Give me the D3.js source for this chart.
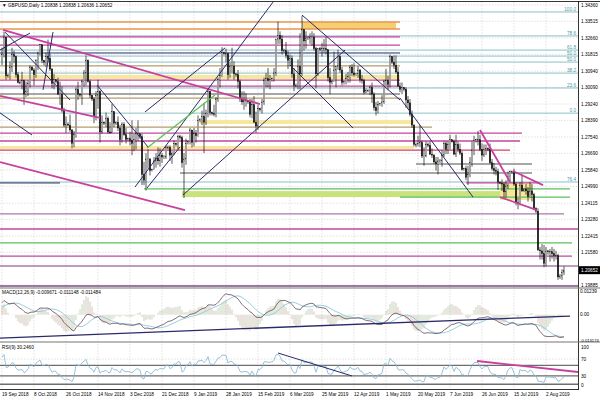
<!DOCTYPE html>
<html>
<head>
<meta charset="utf-8">
<script src="https://cdn.jsdelivr.net/npm/d3@7"></script>
<style>
  body { margin: 0; background: #fff; }
  text { font-family: "Liberation Sans", Arial, sans-serif; font-size: 4.7px; fill: #000; }
</style>
</head>
<body>
<svg width="600" height="400"></svg>
<script>
// GBPUSD daily bars, 19 Sep 2018 .. 13 Aug 2019 (broker has Sunday bars, 6 bars per week)
var closes = [
  1.3180, 1.3270, 1.3070,
  1.3070, 1.3115, 1.3180, 1.3170, 1.3075, 1.3035,
  1.3035, 1.3045, 1.2975, 1.2990, 1.3030, 1.3115,
  1.3100, 1.3075, 1.3150, 1.3185, 1.3230, 1.3150,
  1.3140, 1.3170, 1.3160, 1.3105, 1.3030, 1.3050,
  1.3040, 1.2975, 1.2975, 1.2890, 1.2815, 1.2820,
  1.2815, 1.2790, 1.2720, 1.2765, 1.3000, 1.2975,
  1.2970, 1.3040, 1.3085, 1.3150, 1.3040, 1.2970,
  1.2950, 1.2860, 1.2970, 1.2990, 1.2780, 1.2830,
  1.2825, 1.2850, 1.2780, 1.2775, 1.2885, 1.2825,
  1.2830, 1.2800, 1.2740, 1.2820, 1.2765, 1.2740,
  1.2745, 1.2735, 1.2720, 1.2740, 1.2770, 1.2770,
  1.2755, 1.2560, 1.2530, 1.2640, 1.2640, 1.2580,
  1.2585, 1.2630, 1.2645, 1.2630, 1.2660, 1.2650,
  1.2650, 1.2700, 1.2700, 1.2660, 1.2670, 1.2720,
  1.2715, 1.2755, 1.2750, 1.2620, 1.2640, 1.2720,
  1.2730, 1.2790, 1.2725, 1.2770, 1.2760, 1.2840,
  1.2845, 1.2860, 1.2830, 1.2875, 1.2990, 1.2880,
  1.2875, 1.2870, 1.2950, 1.3050, 1.3070, 1.3190,
  1.3185, 1.3185, 1.3075, 1.3120, 1.3120, 1.3080,
  1.3075, 1.3040, 1.2950, 1.2935, 1.2945, 1.2940,
  1.2935, 1.2870, 1.2920, 1.2830, 1.2810, 1.2900,
  1.2895, 1.2935, 1.3045, 1.3055, 1.3045, 1.3050,
  1.3055, 1.3085, 1.3260, 1.3280, 1.3260, 1.3200,
  1.3200, 1.3175, 1.3150, 1.3160, 1.3080, 1.3020,
  1.3020, 1.3120, 1.3080, 1.3310, 1.3250, 1.3265,
  1.3265, 1.3270, 1.3270, 1.3210, 1.3080, 1.3210,
  1.3205, 1.3210, 1.3210, 1.3205, 1.3060, 1.3035,
  1.3040, 1.3100, 1.3120, 1.3170, 1.3100, 1.3035,
  1.3040, 1.3055, 1.3065, 1.3115, 1.3085, 1.3075,
  1.3080, 1.3100, 1.3050, 1.3045, 1.2985, 1.2995,
  1.2995, 1.3010, 1.2975, 1.2905, 1.2890, 1.2920,
  1.2925, 1.2935, 1.3040, 1.3045, 1.3025, 1.3170,
  1.3140, 1.3125, 1.3090, 1.3015, 1.3000, 1.3010,
  1.3000, 1.2945, 1.2930, 1.2870, 1.2815, 1.2715,
  1.2715, 1.2720, 1.2725, 1.2655, 1.2655, 1.2715,
  1.2710, 1.2665, 1.2660, 1.2625, 1.2615, 1.2630,
  1.2630, 1.2660, 1.2720, 1.2690, 1.2715, 1.2740,
  1.2730, 1.2665, 1.2715, 1.2690, 1.2670, 1.2585,
  1.2590, 1.2545, 1.2560, 1.2620, 1.2685, 1.2735,
  1.2740, 1.2740, 1.2690, 1.2660, 1.2690, 1.2695,
  1.2690, 1.2620, 1.2590, 1.2580, 1.2575, 1.2520,
  1.2515, 1.2510, 1.2470, 1.2500, 1.2550, 1.2575,
  1.2575, 1.2510, 1.2415, 1.2410, 1.2505, 1.2475,
  1.2485, 1.2475, 1.2445, 1.2475, 1.2455, 1.2385,
  1.2370, 1.2170, 1.2165, 1.2150, 1.2100, 1.2165,
  1.2160, 1.2160, 1.2150, 1.2140, 1.2140, 1.2030,
  1.2035, 1.2055, 1.2065
];
var highs = [
  1.3215, 1.3298, 1.3270,
  1.3080, 1.3145, 1.3215, 1.3200, 1.3175, 1.3090,
  1.3045, 1.3090, 1.3050, 1.3040, 1.3045, 1.3125,
  1.3120, 1.3110, 1.3155, 1.3195, 1.3235, 1.3230,
  1.3145, 1.3190, 1.3257, 1.3185, 1.3110, 1.3080,
  1.3050, 1.3060, 1.3040, 1.3015, 1.2905, 1.2860,
  1.2830, 1.2870, 1.2795, 1.2785, 1.3010, 1.3040,
  1.2980, 1.3050, 1.3100, 1.3175, 1.3155, 1.3050,
  1.2965, 1.2960, 1.2990, 1.3050, 1.2995, 1.2865,
  1.2835, 1.2880, 1.2860, 1.2830, 1.2925, 1.2880,
  1.2835, 1.2860, 1.2815, 1.2830, 1.2830, 1.2800,
  1.2750, 1.2780, 1.2840, 1.2770, 1.2800, 1.2840,
  1.2770, 1.2770, 1.2625, 1.2670, 1.2690, 1.2645,
  1.2590, 1.2650, 1.2670, 1.2700, 1.2695, 1.2670,
  1.2660, 1.2710, 1.2710, 1.2710, 1.2680, 1.2735,
  1.2725, 1.2765, 1.2765, 1.2760, 1.2670, 1.2745,
  1.2735, 1.2800, 1.2790, 1.2800, 1.2790, 1.2865,
  1.2850, 1.2890, 1.2930, 1.2895, 1.3000, 1.2990,
  1.2885, 1.2920, 1.2960, 1.3060, 1.3110, 1.3218,
  1.3195, 1.3210, 1.3190, 1.3140, 1.3215, 1.3145,
  1.3085, 1.3100, 1.3050, 1.2990, 1.2990, 1.2980,
  1.2945, 1.2950, 1.2950, 1.2965, 1.2885, 1.2920,
  1.2905, 1.2950, 1.3060, 1.3085, 1.3110, 1.3075,
  1.3060, 1.3110, 1.3260, 1.3350, 1.3300, 1.3280,
  1.3210, 1.3245, 1.3200, 1.3180, 1.3175, 1.3110,
  1.3030, 1.3155, 1.3290, 1.3380, 1.3310, 1.3300,
  1.3275, 1.3290, 1.3300, 1.3290, 1.3220, 1.3210,
  1.3220, 1.3240, 1.3260, 1.3270, 1.3205, 1.3110,
  1.3050, 1.3195, 1.3120, 1.3205, 1.3175, 1.3115,
  1.3045, 1.3080, 1.3090, 1.3125, 1.3130, 1.3135,
  1.3085, 1.3120, 1.3105, 1.3075, 1.3055, 1.3005,
  1.3000, 1.3020, 1.3035, 1.2985, 1.2935, 1.2940,
  1.2930, 1.2970, 1.3050, 1.3105, 1.3070, 1.3180,
  1.3165, 1.3175, 1.3175, 1.3115, 1.3035, 1.3035,
  1.3010, 1.3010, 1.2965, 1.2950, 1.2890, 1.2820,
  1.2725, 1.2760, 1.2815, 1.2735, 1.2700, 1.2730,
  1.2725, 1.2730, 1.2695, 1.2665, 1.2650, 1.2650,
  1.2640, 1.2685, 1.2730, 1.2730, 1.2730, 1.2765,
  1.2740, 1.2740, 1.2765, 1.2730, 1.2720, 1.2680,
  1.2595, 1.2605, 1.2605, 1.2650, 1.2730, 1.2760,
  1.2745, 1.2785, 1.2765, 1.2720, 1.2715, 1.2715,
  1.2700, 1.2720, 1.2640, 1.2620, 1.2600, 1.2590,
  1.2525, 1.2535, 1.2520, 1.2530, 1.2575, 1.2580,
  1.2580, 1.2590, 1.2520, 1.2440, 1.2520, 1.2560,
  1.2490, 1.2510, 1.2495, 1.2520, 1.2510, 1.2465,
  1.2390, 1.2385, 1.2185, 1.2200, 1.2195, 1.2185,
  1.2170, 1.2175, 1.2185, 1.2175, 1.2165, 1.2150,
  1.2045, 1.2070, 1.2085
];
var lows = [
  1.3125, 1.3165, 1.3050,
  1.3060, 1.3050, 1.3090, 1.3135, 1.3060, 1.3030,
  1.3025, 1.3000, 1.2920, 1.2960, 1.2965, 1.3010,
  1.3095, 1.3020, 1.3060, 1.3100, 1.3175, 1.3135,
  1.3125, 1.3115, 1.3140, 1.3095, 1.3005, 1.3000,
  1.3030, 1.2970, 1.2920, 1.2880, 1.2805, 1.2775,
  1.2810, 1.2780, 1.2695, 1.2700, 1.2750, 1.2945,
  1.2960, 1.2920, 1.3015, 1.3020, 1.3035, 1.2955,
  1.2940, 1.2825, 1.2840, 1.2900, 1.2725, 1.2770,
  1.2815, 1.2805, 1.2770, 1.2770, 1.2775, 1.2805,
  1.2815, 1.2785, 1.2710, 1.2725, 1.2760, 1.2720,
  1.2735, 1.2710, 1.2660, 1.2680, 1.2690, 1.2735,
  1.2745, 1.2505, 1.2505, 1.2477, 1.2590, 1.2555,
  1.2575, 1.2585, 1.2595, 1.2610, 1.2600, 1.2620,
  1.2640, 1.2640, 1.2690, 1.2630, 1.2615, 1.2660,
  1.2705, 1.2690, 1.2740, 1.2595, 1.2438, 1.2610,
  1.2715, 1.2715, 1.2700, 1.2705, 1.2725, 1.2755,
  1.2830, 1.2815, 1.2670, 1.2815, 1.2855, 1.2865,
  1.2865, 1.2860, 1.2855, 1.2935, 1.3010, 1.3065,
  1.3175, 1.3140, 1.3050, 1.3060, 1.3085, 1.3050,
  1.3065, 1.3005, 1.2935, 1.2920, 1.2895, 1.2910,
  1.2925, 1.2855, 1.2850, 1.2825, 1.2775, 1.2790,
  1.2885, 1.2875, 1.2920, 1.3010, 1.3010, 1.3000,
  1.3040, 1.3040, 1.3070, 1.3235, 1.3235, 1.3180,
  1.3190, 1.3160, 1.3105, 1.3120, 1.3060, 1.2990,
  1.3010, 1.3000, 1.3000, 1.3070, 1.3200, 1.3210,
  1.3255, 1.3235, 1.3225, 1.3200, 1.3005, 1.3070,
  1.3195, 1.3170, 1.3190, 1.3180, 1.3040, 1.2975,
  1.3025, 1.3040, 1.3010, 1.3100, 1.3085, 1.3020,
  1.3025, 1.3025, 1.3035, 1.3035, 1.3070, 1.3065,
  1.3070, 1.3060, 1.3035, 1.3030, 1.2975, 1.2980,
  1.2985, 1.2970, 1.2930, 1.2890, 1.2865, 1.2875,
  1.2915, 1.2910, 1.2925, 1.3020, 1.2995, 1.3010,
  1.3130, 1.3105, 1.3080, 1.3015, 1.2985, 1.2975,
  1.2990, 1.2905, 1.2900, 1.2860, 1.2800, 1.2705,
  1.2700, 1.2705, 1.2700, 1.2645, 1.2605, 1.2650,
  1.2700, 1.2660, 1.2645, 1.2615, 1.2580, 1.2560,
  1.2620, 1.2600, 1.2650, 1.2665, 1.2665, 1.2690,
  1.2725, 1.2660, 1.2650, 1.2675, 1.2660, 1.2580,
  1.2580, 1.2530, 1.2505, 1.2545, 1.2600, 1.2660,
  1.2725, 1.2710, 1.2680, 1.2630, 1.2650, 1.2660,
  1.2680, 1.2615, 1.2580, 1.2560, 1.2555, 1.2480,
  1.2510, 1.2475, 1.2440, 1.2440, 1.2485, 1.2520,
  1.2565, 1.2500, 1.2400, 1.2380, 1.2400, 1.2470,
  1.2470, 1.2455, 1.2420, 1.2440, 1.2420, 1.2375,
  1.2360, 1.2165, 1.2120, 1.2120, 1.2080, 1.2085,
  1.2145, 1.2110, 1.2125, 1.2110, 1.2120, 1.2015,
  1.2020, 1.2015, 1.2040
];
// closes before the visible window, only used to warm up MACD / RSI
var warmupCloses = [
  1.3120, 1.3125, 1.3130, 1.3125, 1.3005, 1.2995,
  1.2990, 1.2935, 1.2925, 1.2890, 1.2850, 1.2765,
  1.2760, 1.2780, 1.2750, 1.2705, 1.2720, 1.2735,
  1.2740, 1.2810, 1.2905, 1.2885, 1.2820, 1.2830,
  1.2835, 1.2895, 1.2865, 1.3010, 1.3020, 1.2965,
  1.2960, 1.2880, 1.2860, 1.2875, 1.2950, 1.2935,
  1.2930, 1.3035, 1.3025, 1.3040, 1.3110, 1.3070,
  1.3075, 1.3150, 1.3150
];

var priceTicks = [1.34360, 1.33515, 1.32660, 1.31815, 1.30940, 1.30090, 1.29240, 1.28390,
  1.27540, 1.26690, 1.25840, 1.24990, 1.24115, 1.23280, 1.22415, 1.21580, 1.19885];
var lastPrice = 1.20652;
var dateLabels = ["19 Sep 2018", "8 Oct 2018", "26 Oct 2018", "14 Nov 2018", "3 Dec 2018",
  "21 Dec 2018", "9 Jan 2019", "28 Jan 2019", "15 Feb 2019", "6 Mar 2019", "25 Mar 2019",
  "12 Apr 2019", "1 May 2019", "20 May 2019", "7 Jun 2019", "26 Jun 2019", "15 Jul 2019", "2 Aug 2019"];
var barsPerLabel = 16;
var macdTicks = [0.01239, 0, -0.013174];
var macdTickText = ["0.01239", "0.00", "-0.013174"];
var rsiTicks = [100, 70, 30, 0];

// drawn objects: horizontal levels [price, fromBar, toBar, kind]
var levels = [
  [1.3348, -1, 199, "orange"], [1.3312, -1, 199, "orange"],
  [1.3271, -1, 199, "magenta"], [1.3229, -1, 199, "magenta"],
  [1.3188, -1, 199, "navy"], [1.3121, -1, 199, "tan"],
  [1.3048, -1, 199, "magenta"], [1.3017, -1, 199, "magenta"],
  [1.2976, -1, 199, "gray"], [1.2955, -1, 199, "tan"],
  [1.2805, -1, 215, "tan"], [1.2774, -1, 260, "magenta"],
  [1.2733, -1, 259, "magenta"], [1.2686, -1, 254, "red"],
  [1.2614, 207, 265, "gray"], [1.2567, 89, 265, "gray"],
  [1.2516, -1, 29, "navy"], [1.2516, 232, 269, "magenta"],
  [1.2485, 71, 284, "green"], [1.2443, 199, 284, "green"],
  [1.2356, -1, 281, "mauve"], [1.2278, -1, 289, "magenta"],
  [1.2206, -1, 285, "green"], [1.2138, -1, 285, "magenta"],
  [1.2087, -1, 289, "mauve"], [1.1983, -1, 289, "mauveThick"]
];
// filled zones [priceTop, priceBottom, fromBar, toBar, kind]
var zones = [
  [1.3348, 1.3312, 150, 197, "gold"],
  [1.3074, 1.3054, -1, 199, "yellow"],
  [1.2841, 1.2821, 99, 206, "yellow"],
  [1.2707, 1.2692, -1, 206, "yellow"],
  [1.2474, 1.2443, 90, 264, "lime"],
  [1.2516, 1.2428, 249, 265, "yellow"]
];
// fibonacci levels [price, label]
var fibLevels = [
  [1.3400, "100.0"], [1.3276, "78.6"], [1.3203, "61.8"], [1.3172, "50.0"],
  [1.3141, "50.0"], [1.3084, "38.2"], [1.3007, "23.6"], [1.2877, "0.0"], [1.2521, "76.4"]
];
// trend lines [bar1, price1, bar2, price2, kind]
var trendLines = [
  [0.5, 1.3307, 129, 1.2924, "magentaThick"],
  [-1, 1.2966, 49, 1.2852, "magentaThick"],
  [-1, 1.2624, 91.5, 1.2376, "magentaThick"],
  [239, 1.2790, 254, 1.2521, "magentaThick"],
  [255.5, 1.2578, 270.5, 1.2505, "magentaThick"],
  [249, 1.2443, 267.5, 1.2376, "magentaThick"],
  [66.5, 1.2495, 135.5, 1.3451, "navy"],
  [90.5, 1.2454, 171.5, 1.3203, "navy"],
  [150, 1.3384, 199, 1.2945, "navy"],
  [199, 1.2955, 235.5, 1.2443, "navy"],
  [144, 1.3126, 175.5, 1.2800, "navy"],
  [1.5, 1.3296, 34, 1.2945, "navy"],
  [71.5, 1.2883, 111.5, 1.3214, "navy"],
  [47.5, 1.3022, 73, 1.2702, "navy"],
  [72.5, 1.2490, 89, 1.2702, "navy"],
  [-1, 1.2878, 15, 1.2764, "navy"],
  [-1, 1.3203, 14, 1.3291, "navy"],
  [20.5, 1.2997, 25.5, 1.3296, "navy"],
  [72.5, 1.2697, 106.5, 1.2971, "green"]
];
var macdTrend = [-1, -0.01216, 284, -0.00068];
var rsiLevels = [55, 30, 10];
var rsiTrends = [[138, 84.5, 175, 29.8, "navy"], [237.5, 65.5, 288, 39.3, "magentaThick"]];

var styles = {
  orange: ["#e8964c", 1.3], magenta: ["#c4479c", 1.3], magentaThick: ["#c8409e", 1.8],
  navy: ["#2a2a6a", 1], tan: ["#b39b6e", 1.3], gray: ["#8a8a8a", 1.5],
  red: ["#d2406a", 1.3], green: ["#5cbf5c", 1.3], mauve: ["#a77ba8", 1.4],
  mauveThick: ["#9e78a4", 2.2]
};
var zoneColors = { gold: "#f6cf72", yellow: "#f6e79a", lime: "#c9e27e" };

var svg = d3.select("svg");
var plotR = 578;
var x = d3.scaleLinear().domain([0, 288]).range([2, 578]);
var y = d3.scaleLinear().domain([1.19885, 1.34360]).range([285, 5]);
var yM = d3.scaleLinear().domain([-0.013174, 0.01239]).range([340, 291]);
var yR = d3.scaleLinear().domain([0, 100]).range([388.5, 346.5]);

var defs = svg.append("defs");
[["clipMain", 2, 287], ["clipMacd", 288.5, 341], ["clipRsi", 343, 389]].forEach(function (c) {
  defs.append("clipPath").attr("id", c[0]).append("rect")
    .attr("x", 0).attr("y", c[1]).attr("width", plotR).attr("height", c[2] - c[1]);
});

// ---- grid
var grid = svg.append("g").attr("stroke", "#cfcfcf").attr("stroke-width", 0.6).attr("stroke-dasharray", "1.5,1.5");
dateLabels.forEach(function (d, k) {
  grid.append("line").attr("x1", x(k * barsPerLabel)).attr("x2", x(k * barsPerLabel))
    .attr("y1", 2).attr("y2", 389);
});
priceTicks.forEach(function (p) {
  grid.append("line").attr("x1", 0).attr("x2", plotR).attr("y1", y(p)).attr("y2", y(p));
});
rsiTicks.slice(1, 3).forEach(function (r) {
  grid.append("line").attr("x1", 0).attr("x2", plotR).attr("y1", yR(r)).attr("y2", yR(r));
});

// ---- main panel objects
var main = svg.append("g").attr("clip-path", "url(#clipMain)");
main.selectAll(".zone").data(zones).enter().append("rect")
  .attr("x", d => x(d[2])).attr("width", d => x(d[3]) - x(d[2]))
  .attr("y", d => y(d[0])).attr("height", d => y(d[1]) - y(d[0]))
  .attr("fill", d => zoneColors[d[4]]);
main.selectAll(".fib").data(fibLevels).enter().append("line")
  .attr("x1", 0).attr("x2", plotR).attr("y1", d => y(d[0])).attr("y2", d => y(d[0]))
  .attr("stroke", "#6fb0b8").attr("stroke-width", 0.8);
main.selectAll(".lvl").data(levels).enter().append("line")
  .attr("x1", d => x(d[1])).attr("x2", d => x(d[2]))
  .attr("y1", d => y(d[0])).attr("y2", d => y(d[0]))
  .attr("stroke", d => styles[d[3]][0]).attr("stroke-width", d => styles[d[3]][1]);
main.selectAll(".fibtxt").data(fibLevels).enter().append("text")
  .attr("x", 576).attr("y", d => y(d[0]) - 1).attr("text-anchor", "end")
  .style("fill", "#4d9aa6").text(d => d[1]);

// candles
var n = Math.min(closes.length, highs.length, lows.length);
var bars = d3.range(n).map(function (i) {
  var o = i === 0 ? warmupCloses[warmupCloses.length - 1] : closes[i - 1];
  return { i: i, o: o, c: closes[i], h: Math.max(highs[i], o, closes[i]), l: Math.min(lows[i], o, closes[i]) };
});
var cg = main.append("g");
cg.selectAll(".wick").data(bars).enter().append("line")
  .attr("x1", d => x(d.i)).attr("x2", d => x(d.i))
  .attr("y1", d => y(d.h)).attr("y2", d => y(d.l))
  .attr("stroke", "#111").attr("stroke-width", 0.7);
cg.selectAll(".body").data(bars).enter().append("rect")
  .attr("x", d => x(d.i) - 0.7).attr("width", 1.4)
  .attr("y", d => y(Math.max(d.o, d.c)))
  .attr("height", d => Math.max(0.6, Math.abs(y(d.o) - y(d.c))))
  .attr("fill", d => d.c >= d.o ? "#fff" : "#111")
  .attr("stroke", "#111").attr("stroke-width", 0.3);

main.selectAll(".trend").data(trendLines).enter().append("line")
  .attr("x1", d => x(d[0])).attr("y1", d => y(d[1]))
  .attr("x2", d => x(d[2])).attr("y2", d => y(d[3]))
  .attr("stroke", d => styles[d[4]][0])
  .attr("stroke-width", d => styles[d[4]][1]);

// ---- indicators
var all = warmupCloses.concat(closes.slice(0, n));
function ema(arr, p) {
  var k = 2 / (p + 1), prev = arr[0];
  return arr.map(function (v, i) { prev = i ? v * k + prev * (1 - k) : v; return prev; });
}
var e12 = ema(all, 12), e26 = ema(all, 26);
var macdAll = all.map((v, i) => e12[i] - e26[i]);
var sigAll = macdAll.map((v, i) => d3.mean(macdAll.slice(Math.max(0, i - 8), i + 1)));
var rsiAll = [50], ag = 0, al = 0;
for (var i = 1; i < all.length; i++) {
  var ch = all[i] - all[i - 1], g = Math.max(ch, 0), l = Math.max(-ch, 0);
  if (i <= 9) { ag += g / 9; al += l / 9; } else { ag = (ag * 8 + g) / 9; al = (al * 8 + l) / 9; }
  rsiAll.push(al === 0 ? 100 : 100 - 100 / (1 + ag / al));
}
var off = warmupCloses.length;
var ind = d3.range(n).map(function (i) {
  return { i: i, m: macdAll[off + i], s: sigAll[off + i], r: rsiAll[off + i] };
});

var mg = svg.append("g").attr("clip-path", "url(#clipMacd)");
mg.selectAll(".hist").data(ind).enter().append("line")
  .attr("x1", d => x(d.i)).attr("x2", d => x(d.i))
  .attr("y1", yM(0)).attr("y2", d => yM(2 * (d.m - d.s)))
  .attr("stroke", d => d.i > 0 && (d.m - d.s) >= (ind[d.i - 1].m - ind[d.i - 1].s) ? "#8fa874" : "#a88f74")
  .attr("stroke-width", 0.5);
mg.append("path").datum(ind).attr("fill", "none").attr("stroke", "#8ccbdb").attr("stroke-width", 0.9)
  .attr("d", d3.line().x(d => x(d.i)).y(d => yM(d.s)));
mg.append("path").datum(ind).attr("fill", "none").attr("stroke", "#6a4a58").attr("stroke-width", 0.8)
  .attr("d", d3.line().x(d => x(d.i)).y(d => yM(d.m)));
mg.append("line").attr("x1", x(macdTrend[0])).attr("y1", yM(macdTrend[1]))
  .attr("x2", x(macdTrend[2])).attr("y2", yM(macdTrend[3]))
  .attr("stroke", styles.navy[0]).attr("stroke-width", 1.3);

var rg = svg.append("g").attr("clip-path", "url(#clipRsi)");
rg.selectAll(".rl").data(rsiLevels).enter().append("line")
  .attr("x1", 0).attr("x2", plotR).attr("y1", d => yR(d)).attr("y2", d => yR(d))
  .attr("stroke", "#6e6e6e").attr("stroke-width", 1.4);
rg.append("path").datum(ind).attr("fill", "none").attr("stroke", "#7fb4d2").attr("stroke-width", 0.8)
  .attr("d", d3.line().x(d => x(d.i)).y(d => yR(d.r)));
rg.selectAll(".rt").data(rsiTrends).enter().append("line")
  .attr("x1", d => x(d[0])).attr("y1", d => yR(d[1]))
  .attr("x2", d => x(d[2])).attr("y2", d => yR(d[3]))
  .attr("stroke", d => styles[d[4]][0]).attr("stroke-width", d => styles[d[4]][1]);

// ---- frames
var fr = svg.append("g").attr("stroke", "#000").attr("stroke-width", 0.8).attr("fill", "none");
fr.append("line").attr("x1", plotR + 0.5).attr("x2", plotR + 0.5).attr("y1", 1).attr("y2", 390);
fr.append("line").attr("x1", 0).attr("x2", 600).attr("y1", 1.5).attr("y2", 1.5);
fr.append("line").attr("x1", 0).attr("x2", 600).attr("y1", 288).attr("y2", 288).attr("stroke", "#777").attr("stroke-width", 1.2);
fr.append("line").attr("x1", 0).attr("x2", 600).attr("y1", 342).attr("y2", 342).attr("stroke", "#777").attr("stroke-width", 1.2);
fr.append("line").attr("x1", 0).attr("x2", plotR).attr("y1", 389.5).attr("y2", 389.5);

// ---- axis texts
svg.selectAll(".pt").data(priceTicks).enter().append("text")
  .attr("x", 581).attr("y", d => y(d) + 1.7).text(d => d.toFixed(5));
svg.append("rect").attr("x", 579).attr("y", y(lastPrice) - 4).attr("width", 21).attr("height", 8).attr("fill", "#000");
svg.append("text").attr("x", 581).attr("y", y(lastPrice) + 1.7).style("fill", "#fff").text(lastPrice.toFixed(5));
svg.selectAll(".mt").data(macdTicks).enter().append("text")
  .attr("x", 580).attr("y", (d, k) => yM(d) + 1.7)
  .style("font-size", (d, k) => k === 2 ? "4.2px" : null)
  .text((d, k) => macdTickText[k]);
svg.selectAll(".rtk").data(rsiTicks).enter().append("text")
  .attr("x", 581).attr("y", d => Math.min(387, Math.max(349, yR(d) + 1.7))).text(d => d);
svg.selectAll(".dt").data(dateLabels).enter().append("text")
  .attr("x", (d, k) => x(k * barsPerLabel)).attr("y", 396).text(d => d);

svg.append("text").attr("x", 2).attr("y", 7).text("\u25BC GBPUSD,Daily  1.20838 1.20838 1.20636 1.20652");
svg.append("text").attr("x", 2).attr("y", 293.5).text("MACD(12,26,9) -0.009671 -0.011148 -0.011484");
svg.append("text").attr("x", 2).attr("y", 348.5).text("RSI(9) 30.2460");
</script>
</body>
</html>
